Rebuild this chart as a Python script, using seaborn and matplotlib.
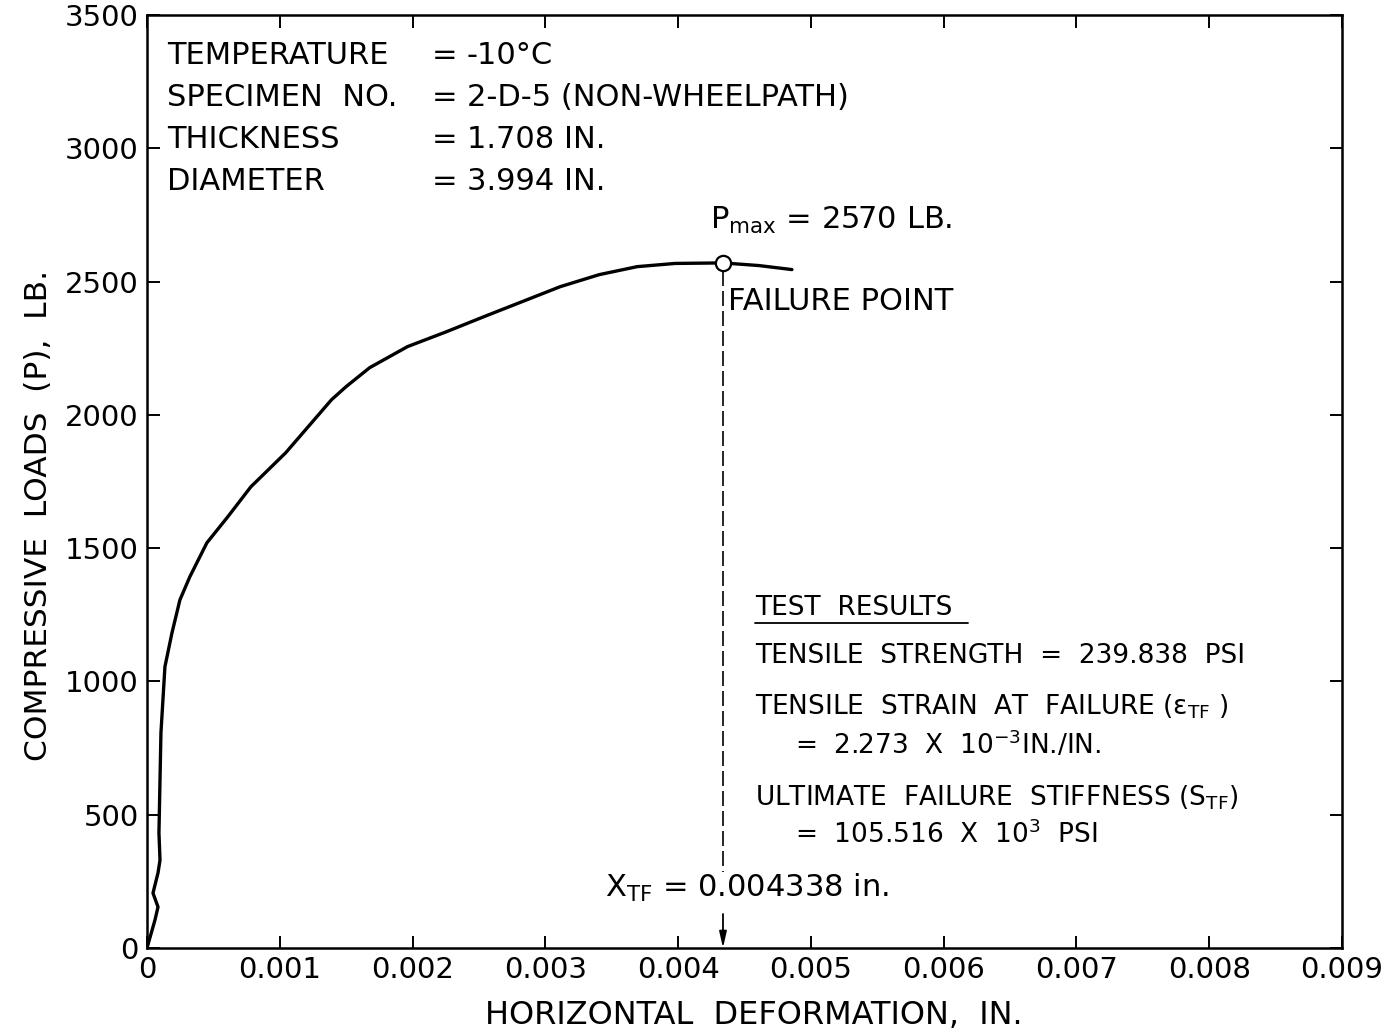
import numpy as np
import pandas as pd
import matplotlib
matplotlib.use("Agg")
import matplotlib.pyplot as plt
import seaborn as sns

# ---------------- data ----------------
deformation_in = [0.0, 0.00006, 0.000083, 0.000045, 0.000083, 0.000098, 0.00009,
                  0.000105, 0.00012, 0.000135, 0.000188, 0.000248, 0.000323,
                  0.000451, 0.000609, 0.000782, 0.001045, 0.00139, 0.0015,
                  0.001677, 0.001962, 0.002256, 0.002541, 0.002827, 0.003113,
                  0.003406, 0.003692, 0.003977, 0.004338, 0.00461, 0.004857]
load_lb = [0, 105, 154, 206, 282, 330, 432, 807, 931, 1055, 1182, 1306, 1393,
           1520, 1618, 1730, 1858, 2057, 2106, 2177, 2256, 2312, 2369, 2425,
           2481, 2526, 2556, 2568, 2570, 2560, 2545]
x_tf = 0.004338
p_max = 2570
x_ticks = [0, 0.001, 0.002, 0.003, 0.004, 0.005, 0.006, 0.007, 0.008, 0.009]
x_tick_labels = ["0", "0.001", "0.002", "0.003", "0.004", "0.005", "0.006",
                 "0.007", "0.008", "0.009"]
y_ticks = [0, 500, 1000, 1500, 2000, 2500, 3000, 3500]
y_tick_labels = ["0", "500", "1000", "1500", "2000", "2500", "3000", "3500"]
header_labels = ["TEMPERATURE", "SPECIMEN  NO.", "THICKNESS", "DIAMETER"]
header_values = ["-10°C", "2-D-5 (NON-WHEELPATH)", "1.708 IN.", "3.994 IN."]

df = pd.DataFrame({"x": deformation_in, "y": load_lb})

# ---------------- style ----------------
sns.set_theme(style="ticks")
plt.rcParams["font.family"] = ["DejaVu Sans"]
plt.rcParams["mathtext.default"] = "regular"
plt.rcParams["text.color"] = "black"
plt.rcParams["axes.labelcolor"] = "black"

W, H = 1393, 1033
fig = plt.figure(figsize=(W / 100, H / 100), dpi=100)
L, R, T, B = 147, 1342, 15, 948
ax = fig.add_axes([L / W, (H - B) / H, (R - L) / W, (B - T) / H])

sns.lineplot(data=df, x="x", y="y", sort=False, estimator=None, color="black",
             linewidth=2.4, ax=ax)

ax.set_xlim(0, 0.009)
ax.set_ylim(0, 3500)
ax.set_xticks(x_ticks)
ax.set_xticklabels(x_tick_labels)
ax.set_yticks(y_ticks)
ax.set_yticklabels(y_tick_labels)
ax.tick_params(direction="in", length=9, width=1.4, top=True, right=True,
               labelsize=21, colors="black", pad=6)
for s in ax.spines.values():
    s.set_linewidth(1.8)
    s.set_color("black")

ax.set_xlabel("HORIZONTAL  DEFORMATION,  IN.", fontsize=23, color="black")
ax.set_ylabel("COMPRESSIVE  LOADS  (P),  LB.", fontsize=22.5, color="black")
ax.xaxis.label.set_va("center")
ax.xaxis.set_label_coords(0.508, -0.072)
ax.yaxis.label.set_va("center")
ax.yaxis.set_label_coords(-0.091, 0.464)


def fx(px):
    return (px - L) / (R - L)


def fy(py):
    return (B - py) / (B - T)


# failure point: dashed line, marker, arrow
y_text_top = (B - 872) / ((B - T) / 3500)
y_text_bot = (B - 914) / ((B - T) / 3500)
ax.plot([x_tf, x_tf], [p_max - 30, y_text_top], color="black", lw=1.2,
        dashes=(9, 3))
ax.annotate("", xy=(x_tf, 0), xytext=(x_tf, y_text_bot),
            arrowprops=dict(arrowstyle="-|>,head_length=0.8,head_width=0.18",
                            color="black", lw=1.3, shrinkA=0, shrinkB=0))
ax.plot([x_tf], [p_max], marker="o", markersize=11, markerfacecolor="white",
        markeredgecolor="black", markeredgewidth=1.6, zorder=5)

# header block
tr = ax.transAxes
hfs = 22
for i, (lab, val) in enumerate(zip(header_labels, header_values)):
    yy = fy(55 + 42 * i)
    ax.text(fx(167), yy, lab, transform=tr, fontsize=hfs, va="center", ha="left")
    ax.text(fx(432), yy, "=", transform=tr, fontsize=hfs, va="center", ha="left")
    ax.text(fx(467), yy, val, transform=tr, fontsize=hfs, va="center", ha="left")

ax.text(fx(710), fy(220), "$P_{max}$ = 2570 LB.", transform=tr, fontsize=hfs,
        va="center", ha="left")
ax.text(fx(728), fy(301), "FAILURE POINT", transform=tr, fontsize=hfs,
        va="center", ha="left")

# test results
fs = 19
ax.text(fx(755), fy(608), "TEST  RESULTS", transform=tr, fontsize=fs,
        va="center", ha="left")
ax.plot([fx(755), fx(968)], [fy(623), fy(623)], transform=tr, color="black",
        lw=1.3, clip_on=False)
ax.text(fx(755), fy(656), "TENSILE  STRENGTH  =  239.838  PSI", transform=tr,
        fontsize=fs, va="center", ha="left")
ax.text(fx(755), fy(707), r"TENSILE  STRAIN  AT  FAILURE ($\epsilon_{TF}$ )",
        transform=tr, fontsize=fs, va="center", ha="left")
ax.text(fx(795), fy(745), r"=  2.273  X  10$^{-3}$IN./IN.", transform=tr,
        fontsize=fs, va="center", ha="left")
ax.text(fx(755), fy(798), r"ULTIMATE  FAILURE  STIFFNESS (S$_{TF}$)",
        transform=tr, fontsize=fs, va="center", ha="left")
ax.text(fx(795), fy(835), r"=  105.516  X  10$^{3}$  PSI", transform=tr,
        fontsize=fs, va="center", ha="left")

ax.text(fx(605), fy(888), "$X_{TF}$ = 0.004338 in.", transform=tr,
        fontsize=hfs, va="center", ha="left")

fig.savefig("out.png", dpi=100, facecolor="white")
